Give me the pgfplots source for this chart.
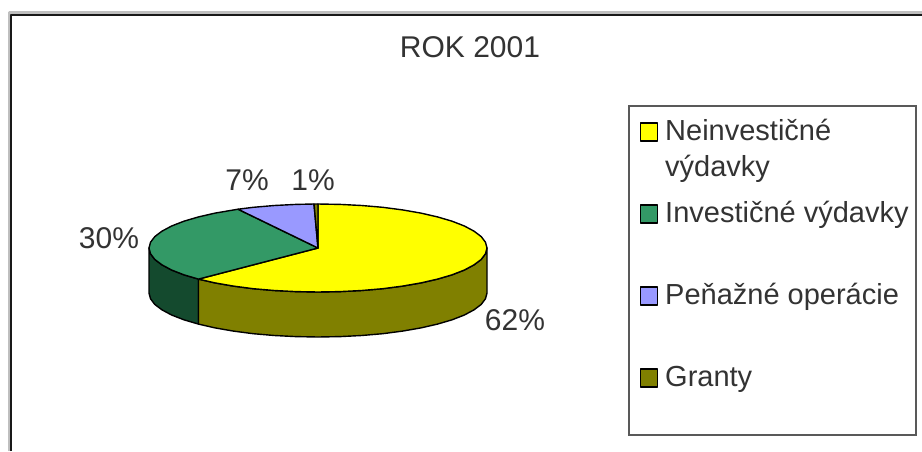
\documentclass[border=0pt]{standalone}
\usepackage{fontspec}
\setmainfont{Liberation Sans}
\usepackage{pgfplots}
\pgfplotsset{compat=1.18}
\definecolor{txt}{HTML}{333333}
\definecolor{pyellow}{HTML}{FFFF00}
\definecolor{pgreen}{HTML}{339966}
\definecolor{pgreend}{HTML}{144A2E}
\definecolor{pblue}{HTML}{9999FF}
\definecolor{polive}{HTML}{808000}
\newcommand{\swatch}[1]{\draw[draw=black,line width=1.4pt,fill=#1] (0pt,0pt) rectangle (17pt,18pt);}
\pgfplotsset{
  sw/.style={legend image code/.code={\swatch{#1}}},
}
\newcommand{\ent}[1]{\parbox[t]{240pt}{\rule[-52pt]{0pt}{82pt}\mbox{#1}}}
\begin{document}
\begin{tikzpicture}
\path (0,0) rectangle (922pt,451pt);
\begin{axis}[
  scale only axis, width=922pt, height=451pt,
  xmin=0, xmax=922, ymin=0, ymax=451, y dir=reverse,
  axis lines=none, clip=true,
  legend style={at={(628/922,1-105/451)}, anchor=north west,
    draw=black!65, line width=1.6pt, fill=white, inner xsep=11pt, inner ysep=5pt,
    row sep=0pt, column sep=7pt, text=txt,
    font=\fontsize{29}{36}\selectfont,
    cells={anchor=base west},
    nodes={inner sep=0pt, outer sep=0pt, text depth=, text height=}},
  every axis plot/.append style={line width=1.4pt, line join=round},
]
% frame
\addplot[forget plot, draw=black!25, line width=3pt] coordinates {(9,451)(9,12.5)(922,12.5)};
\addplot[forget plot, draw=black!90, line width=2pt] coordinates {(11,451)(11,14.5)(922,14.5)};
% sides
\addplot[forget plot, draw=black, fill=pgreend] coordinates {
(198.5,279.1)(183.9,274.8)(171.6,270)(161.9,264.8)(154.8,259.4)(150.5,253.7)(149,248)
(149,293)(150.5,298.7)(154.8,304.4)(161.9,309.8)(171.6,315)(183.9,319.8)(198.5,324.1)} --cycle;
\addplot[forget plot, draw=black, fill=polive] coordinates {
(487,248)(485.5,253.7)(481.2,259.4)(474.1,264.8)(464.4,270)(452.1,274.8)(437.5,279.1)(420.9,282.9)(402.5,286.1)(382.7,288.7)(361.7,290.5)(340.1,291.6)(318,292)(295.9,291.6)(274.3,290.5)(253.3,288.7)(233.5,286.1)(215.1,282.9)(198.5,279.1)
(198.5,324.1)(215.1,327.9)(233.5,331.1)(253.3,333.7)(274.3,335.5)(295.9,336.6)(318,337)(340.1,336.6)(361.7,335.5)(382.7,333.7)(402.5,331.1)(420.9,327.9)(437.5,324.1)(452.1,319.8)(464.4,315)(474.1,309.8)(481.2,304.4)(485.5,298.7)(487,293)} --cycle;
% top slices
\addplot[sw=pyellow, draw=black, fill=pyellow] coordinates {
(318,248)(318,204)(340.1,204.4)(361.7,205.5)(382.7,207.3)(402.5,209.9)(420.9,213.1)(437.5,216.9)(452.1,221.2)(464.4,226)(474.1,231.2)(481.2,236.6)(485.5,242.3)
(487,248)(485.5,253.7)(481.2,259.4)(474.1,264.8)(464.4,270)(452.1,274.8)(437.5,279.1)(420.9,282.9)(402.5,286.1)(382.7,288.7)(361.7,290.5)(340.1,291.6)(318,292)(295.9,291.6)(274.3,290.5)(253.3,288.7)(233.5,286.1)(215.1,282.9)(198.5,279.1)} --cycle;
\addlegendentry{\parbox[t]{240pt}{\rule{0pt}{30pt}Neinvestičné\\[0pt]\rule[-16pt]{0pt}{16pt}výdavky}}
\addplot[sw=pgreen, draw=black, fill=pgreen] coordinates {
(318,248)(198.5,279.1)(183.9,274.8)(171.6,270)(161.9,264.8)(154.8,259.4)(150.5,253.7)(149,248)(150.5,242.3)(154.8,236.6)(161.9,231.2)(171.6,226)(183.9,221.2)(198.5,216.9)(215.1,213.1)(238,209.2)} --cycle;
\addlegendentry{\ent{Investičné výdavky}}
\addplot[sw=pblue, draw=black, fill=pblue] coordinates {
(318,248)(238,209.2)(253.3,207.3)(274.3,205.5)(295.9,204.4)(314,204)} --cycle;
\addlegendentry{\ent{Peňažné operácie}}
\addplot[sw=polive, draw=black, fill=polive] coordinates {
(318,248)(314,204)(318,204)} --cycle;
\addlegendentry{\parbox[t]{240pt}{\rule[-43pt]{0pt}{73pt}Granty}}
% labels
\node[text=txt, font=\fontsize{30}{34}\selectfont] at (axis cs:470,47) {ROK 2001};
\node[text=txt, font=\fontsize{30}{34}\selectfont] at (axis cs:515,320) {62\%};
\node[text=txt, font=\fontsize{30}{34}\selectfont] at (axis cs:109,238) {30\%};
\node[text=txt, font=\fontsize{30}{34}\selectfont] at (axis cs:247,180) {7\%};
\node[text=txt, font=\fontsize{30}{34}\selectfont] at (axis cs:313,180) {1\%};
\end{axis}
\end{tikzpicture}
\end{document}
